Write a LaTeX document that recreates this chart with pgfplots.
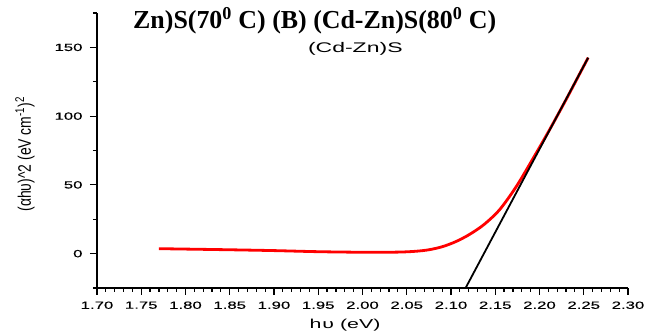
\documentclass[border=0pt]{standalone}
\usepackage{fontspec}
\usepackage{graphicx}
\usepackage{pgfplots}
\pgfplotsset{compat=1.18}
\setmainfont{Liberation Sans}
\newfontfamily\widefont[FakeStretch=1.65]{Liberation Sans}
\newfontfamily\tickfont[FakeStretch=1.6,FakeBold=0.4]{Liberation Sans}
\newfontfamily\titlefont{Liberation Serif}
\begin{document}
\begin{tikzpicture}
\begin{axis}[
  scale only axis,
  width=531bp, height=275bp,
  xmin=1.70, xmax=2.30, ymin=-25, ymax=175,
  axis x line=bottom, axis y line=left,
  axis line style={-, line width=1.4bp, black},
  tick align=outside,
  xtick={1.70,1.75,1.80,1.85,1.90,1.95,2.00,2.05,2.10,2.15,2.20,2.25,2.30},
  minor xtick={1.71,1.72,1.73,1.74,1.76,1.77,1.78,1.79,1.81,1.82,1.83,1.84,1.86,1.87,1.88,1.89,1.91,1.92,1.93,1.94,1.96,1.97,1.98,1.99,2.01,2.02,2.03,2.04,2.06,2.07,2.08,2.09,2.11,2.12,2.13,2.14,2.16,2.17,2.18,2.19,2.21,2.22,2.23,2.24,2.26,2.27,2.28,2.29},
  ytick={0,50,100,150},
  minor ytick={-25,25,75,125,175},
  major tick length=7bp, minor tick length=4bp,
  tick style={black, line width=1.2bp},
  /pgf/number format/assume math mode=true,
  ticklabel style={font=\tickfont\fontsize{10.5}{11}\selectfont},
  xticklabel style={yshift=-3bp, /pgf/number format/.cd, fixed, fixed zerofill, precision=2},
  yticklabel style={xshift=-4bp, /pgf/number format/.cd, fixed, precision=0},
  xlabel={h\kern1bp υ (eV)},
  xlabel style={font=\widefont\fontsize{13}{14}\selectfont, at={(axis description cs:0.467,0)}, anchor=center, yshift=-37bp},
  ylabel={\scalebox{1}[1.3]{(αhυ)\textasciicircum 2 (eV cm\textsuperscript{-1})\textsuperscript{2}}},
  ylabel style={font=\fontsize{14}{15}\selectfont, at={(axis description cs:-0.1356,0.487)}, anchor=center},
  clip=false,
]
\addplot[red, line width=2.8bp, smooth] coordinates {
(1.770,3.6) (1.800,3.3) (1.850,2.8) (1.900,2.2) (1.950,1.4) (2.000,1.0)
(2.040,1.1) (2.060,1.7) (2.075,2.8) (2.090,5.0) (2.105,8.6) (2.120,13.6)
(2.137,21.0) (2.155,32.0) (2.174,49.0) (2.193,69.5) (2.210,88.5)
(2.230,112.0) (2.245,130.3) (2.255,142.5)
};
\addplot[black, line width=1.8bp] coordinates {(2.1165,-25) (2.255,142.5)};
\node[anchor=base west, inner sep=0pt, font=\titlefont\bfseries\fontsize{26}{28}\selectfont] at (axis description cs:0.0678,0.944) {Zn)S(70\textsuperscript{0} C) (B) (Cd-Zn)S(80\textsuperscript{0} C)};
\node[anchor=base west, inner sep=0pt, font=\widefont\fontsize{14}{15}\selectfont] at (axis description cs:0.397,0.857) {(Cd-Zn)S};
\end{axis}
\path (current axis.south west) ++(-97bp,-44bp) rectangle ++(659bp,332bp);
\end{tikzpicture}
\end{document}
